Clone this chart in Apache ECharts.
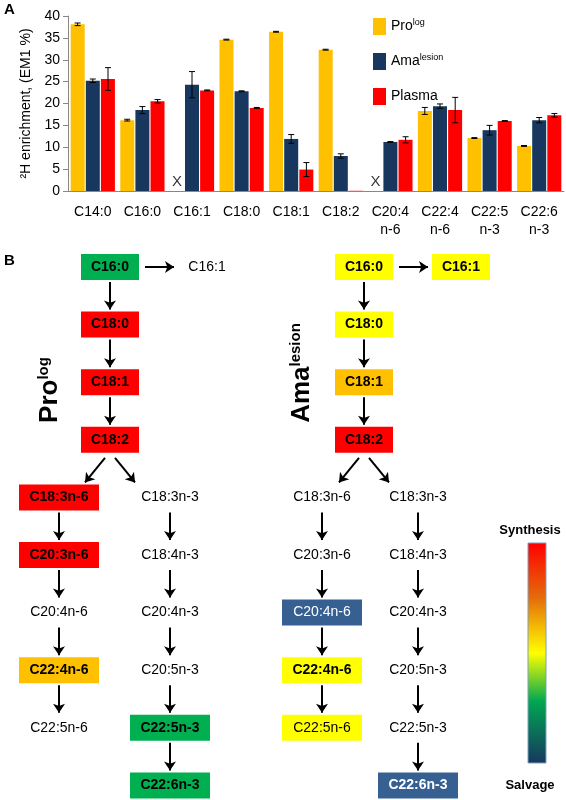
<!DOCTYPE html>
<html><head><meta charset="utf-8">
<script src="https://cdn.jsdelivr.net/npm/echarts@6/dist/echarts.min.js"></script>
<style>html,body{margin:0;padding:0;background:#fff}#c{width:566px;height:800px}</style>
</head><body><div id="c"></div>
<script>
const categories = ['C14:0','C16:0','C16:1','C18:0','C18:1','C18:2','C20:4\nn-6','C22:4\nn-6','C22:5\nn-3','C22:6\nn-3'];
const proValues    = [38.1, 16.2, null, 34.6, 36.4, 32.3, null, 18.3, 12.1, 10.3];
const proErr       = [0.3, 0.2, null, 0.1, 0.1, 0.1, null, 0.8, 0.1, 0.1];
const amaValues    = [25.2, 18.5, 24.3, 22.8, 11.9, 8.0, 11.2, 19.4, 13.9, 16.2];
const amaErr       = [0.4, 0.8, 3.0, 0.1, 1.0, 0.5, 0.1, 0.5, 1.1, 0.6];
const plasmaValues = [25.6, 20.5, 23.0, 19.0, 4.9, 0.05, 11.7, 18.5, 16.0, 17.3];
const plasmaErr    = [2.6, 0.4, 0.1, 0.1, 1.6, 0, 0.7, 2.9, 0.1, 0.4];
const xMarks = [2, 6];

// Diagram (panel B): [id, label, column, row, fill, bold, textColor]
const colPos = {pL:59, pM:110, pR:170, pS:207, aL:322, aM:364, aR:418, aS:461};
const nodes = [
 ['p160','C16:0','pM',0,'#00B050',1,'#000'],['p161','C16:1','pS',0,null,0,'#000'],
 ['p180','C18:0','pM',1,'#FF0000',1,'#000'],['p181','C18:1','pM',2,'#FF0000',1,'#000'],['p182','C18:2','pM',3,'#FF0000',1,'#000'],
 ['p1836','C18:3n-6','pL',4,'#FF0000',1,'#000'],['p2036','C20:3n-6','pL',5,'#FF0000',1,'#000'],['p2046','C20:4n-6','pL',6,null,0,'#000'],
 ['p2246','C22:4n-6','pL',7,'#FFC000',1,'#000'],['p2256','C22:5n-6','pL',8,null,0,'#000'],
 ['p1833','C18:3n-3','pR',4,null,0,'#000'],['p1843','C18:4n-3','pR',5,null,0,'#000'],['p2043','C20:4n-3','pR',6,null,0,'#000'],
 ['p2053','C20:5n-3','pR',7,null,0,'#000'],['p2253','C22:5n-3','pR',8,'#00B050',1,'#000'],['p2263','C22:6n-3','pR',9,'#00B050',1,'#000'],
 ['a160','C16:0','aM',0,'#FFFF00',1,'#000'],['a161','C16:1','aS',0,'#FFFF00',1,'#000'],
 ['a180','C18:0','aM',1,'#FFFF00',1,'#000'],['a181','C18:1','aM',2,'#FFC000',1,'#000'],['a182','C18:2','aM',3,'#FF0000',1,'#000'],
 ['a1836','C18:3n-6','aL',4,null,0,'#000'],['a2036','C20:3n-6','aL',5,null,0,'#000'],['a2046','C20:4n-6','aL',6,'#376092',0,'#fff'],
 ['a2246','C22:4n-6','aL',7,'#FFFF00',1,'#000'],['a2256','C22:5n-6','aL',8,'#FFFF00',0,'#000'],
 ['a1833','C18:3n-3','aR',4,null,0,'#000'],['a1843','C18:4n-3','aR',5,null,0,'#000'],['a2043','C20:4n-3','aR',6,null,0,'#000'],
 ['a2053','C20:5n-3','aR',7,null,0,'#000'],['a2253','C22:5n-3','aR',8,null,0,'#000'],['a2263','C22:6n-3','aR',9,'#376092',1,'#fff']
];
const edges = [];
['p','a'].forEach(s=>{
  edges.push([s+'160',s+'161'],[s+'160',s+'180'],[s+'180',s+'181'],[s+'181',s+'182'],[s+'182',s+'1836'],[s+'182',s+'1833'],
   [s+'1836',s+'2036'],[s+'2036',s+'2046'],[s+'2046',s+'2246'],[s+'2246',s+'2256'],
   [s+'1833',s+'1843'],[s+'1843',s+'2043'],[s+'2043',s+'2053'],[s+'2053',s+'2253'],[s+'2253',s+'2263']);
});

const rowY = r => 267 + 57.6*r;
const nodeMap = {};
nodes.forEach(n=>{ nodeMap[n[0]] = {x:colPos[n[2]], y:rowY(n[3]), w: n[1].length>5?80:58, n:n}; });
const arrowData = edges.map(([a,b])=>{
  const A=nodeMap[a], B=nodeMap[b];
  if (Math.abs(A.y-B.y)<1) return {coords:[[A.x+35,A.y],[B.x-33,B.y]]};
  if (Math.abs(A.x-B.x)<1) return {coords:[[A.x,A.y+15],[B.x,B.y-15]]};
  const s = B.x>A.x?1:-1;
  return {coords:[[A.x+s*5,A.y+18],[A.x+s*25,B.y-15]]};
});
const nodeData = nodes.map(n=>{
  const m=nodeMap[n[0]];
  return {value:[m.x,m.y], symbolSize: n[4]?[m.w,26]:[1,1], itemStyle:{color:n[4]||'rgba(0,0,0,0)', opacity:1},
    label:{show:true, position:'inside', formatter:n[1], color:n[6], fontWeight:n[5]?'bold':'normal', fontSize:14, fontFamily:'Liberation Sans'}};
});

const chart = echarts.init(document.getElementById('c'));
const errSeries = (vals, errs, k) => ({
  type:'custom', xAxisIndex:0, yAxisIndex:0, z:5,
  data: vals.map((v,i)=>[i, v, errs[i]]),
  renderItem:(p, api)=>{
    const v = api.value(1), e = api.value(2);
    if (isNaN(v) || isNaN(e) || e<=0) return null;
    const i = api.value(0);
    const t = api.coord([i, v+e]), b = api.coord([i, v-e]);
    const x = t[0] + (k-1)*15.2;
    const st = {stroke:'#000', lineWidth:1};
    return {type:'group', children:[
      {type:'line', shape:{x1:x,y1:t[1],x2:x,y2:b[1]}, style:st},
      {type:'line', shape:{x1:x-3,y1:t[1],x2:x+3,y2:t[1]}, style:st},
      {type:'line', shape:{x1:x-3,y1:b[1],x2:x+3,y2:b[1]}, style:st}]};
  }
});
const font = 'Liberation Sans';
chart.setOption({
  animation:false,
  textStyle:{fontFamily:font},
  grid:[{left:68, right:2, top:16, bottom:609},{left:0,right:0,top:0,bottom:0}],
  legend:{orient:'vertical', left:368, top:13, itemGap:18, itemWidth:13, itemHeight:17, icon:'rect',
    data:['Pro','Ama','Plasma'],
    formatter: n => n==='Pro' ? 'Pro{s|log}' : n==='Ama' ? 'Ama{s|lesion}' : 'Plasma',
    textStyle:{fontSize:14, color:'#000', fontFamily:font, rich:{s:{fontSize:9, verticalAlign:'top', padding:[0,0,8,0]}}}},
  xAxis:[{type:'category', gridIndex:0, data:categories, axisTick:{show:false},
      axisLine:{lineStyle:{color:'#888'}}, axisLabel:{fontSize:14, color:'#000', margin:12, lineHeight:18, interval:0}},
    {type:'value', gridIndex:1, min:0, max:566, show:false}],
  yAxis:[{type:'value', gridIndex:0, min:0, max:40, interval:5, splitLine:{show:false},
      axisLine:{show:true, lineStyle:{color:'#888'}}, axisTick:{show:true, lineStyle:{color:'#888'}},
      axisLabel:{fontSize:14, color:'#000'},
      name:'²H enrichment, (EM1 %)', nameLocation:'middle', nameGap:32, nameTextStyle:{fontSize:14, color:'#000'}},
    {type:'value', gridIndex:1, min:0, max:800, inverse:true, show:false}],
  series:[
    {name:'Pro', type:'bar', data:proValues, barWidth:14, barGap:'8%', itemStyle:{color:'#FFC000'}},
    {name:'Ama', type:'bar', data:amaValues, barWidth:14, barGap:'8%', itemStyle:{color:'#17375E'}},
    {name:'Plasma', type:'bar', data:plasmaValues, barWidth:14, barGap:'8%', itemStyle:{color:'#FF0000'}},
    errSeries(proValues, proErr, 0), errSeries(amaValues, amaErr, 1), errSeries(plasmaValues, plasmaErr, 2),
    {type:'scatter', data:xMarks.map(i=>[i,0]), symbolSize:0,
      label:{show:true, formatter:'X', offset:[-15,-9], fontSize:15, color:'#000', position:'inside'}},
    {type:'lines', coordinateSystem:'cartesian2d', xAxisIndex:1, yAxisIndex:1, data:arrowData,
      symbol:['none','arrow'], symbolSize:9, lineStyle:{color:'#000', width:2, opacity:1}},
    {type:'scatter', xAxisIndex:1, yAxisIndex:1, symbol:'rect', data:nodeData, z:3, itemStyle:{opacity:1}}
  ],
  graphic:[
    {type:'text', left:4, top:2, style:{text:'A', font:'bold 15px Liberation Sans', fill:'#000'}},
    {type:'text', left:4, top:253, style:{text:'B', font:'bold 15px Liberation Sans', fill:'#000'}},
    {type:'text', x:50, y:390, rotation:Math.PI/2, style:{text:'Pro{s|log}', align:'center', verticalAlign:'middle',
      font:'bold 26px Liberation Sans', fill:'#000', rich:{s:{fontSize:15, fontWeight:'bold', verticalAlign:'top', padding:[0,0,12,0]}}}},
    {type:'text', x:302, y:373, rotation:Math.PI/2, style:{text:'Ama{s|lesion}', align:'center', verticalAlign:'middle',
      font:'bold 26px Liberation Sans', fill:'#000', rich:{s:{fontSize:15, fontWeight:'bold', verticalAlign:'top', padding:[0,0,12,0]}}}},
    {type:'rect', shape:{x:528, y:543, width:18, height:220}, style:{stroke:'#7f9fbf', lineWidth:1,
      fill:new echarts.graphic.LinearGradient(0,0,0,1,[{offset:0,color:'#FF0000'},{offset:0.25,color:'#E46C0A'},{offset:0.5,color:'#FFFF00'},{offset:0.72,color:'#00A651'},{offset:1,color:'#17375E'}])}},
    {type:'text', x:530, y:530, style:{text:'Synthesis', align:'center', verticalAlign:'middle', font:'bold 13px Liberation Sans', fill:'#000'}},
    {type:'text', x:530, y:785, style:{text:'Salvage', align:'center', verticalAlign:'middle', font:'bold 13px Liberation Sans', fill:'#000'}}
  ]
});
</script></body></html>
